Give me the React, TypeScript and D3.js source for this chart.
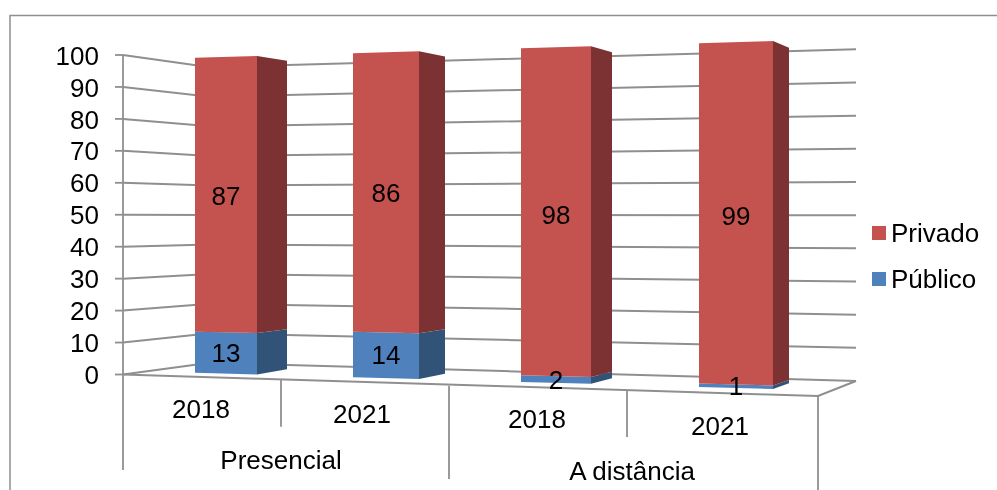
import React from "react";
import * as d3 from "d3";

const groups = ["Presencial", "A distância"];
const years = ["2018", "2021", "2018", "2021"];
const publico = [13, 14, 2, 1];
const privado = [87, 86, 98, 99];
const ticks = [0, 10, 20, 30, 40, 50, 60, 70, 80, 90, 100];

const W = 997, H = 490;
const FONT = "'Liberation Sans', Arial, sans-serif";
const GRID = "#8f8f8f";

// Perspective frame of the chart box: vertical scales at the three wall corners
const yFrontLeft = d3.scaleLinear().domain([0, 100]).range([374.5, 55]);
const yBackLeft = d3.scaleLinear().domain([0, 100]).range([362.8, 67.2]);
const yBackRight = d3.scaleLinear().domain([0, 100]).range([381, 49.3]);
const X_FRONT_LEFT = 123, X_BACK_LEFT = 210, X_BACK_RIGHT = 856, X_FRONT_RIGHT = 818, Y_FRONT_RIGHT = 396;

// Horizontal positions of bar faces by bar index
const idx = [0, 1, 2, 3];
const xFrontL = d3.scaleLinear().domain(idx).range([195, 353, 521, 699]);
const xFrontR = d3.scaleLinear().domain(idx).range([257, 419, 591, 773]);
const xSideR = d3.scaleLinear().domain(idx).range([287, 445, 612, 789]);

// Value baseline / top of the bars' front plane and side plane, along screen x
const frontBase = d3.scaleLinear().domain([195, 773]).range([372.7, 389]);
const frontTop = d3.scaleLinear().domain([195, 773]).range([57.7, 41]);
const sideBase = d3.scaleLinear().domain([287, 789]).range([369.3, 383.3]);
const sideTop = d3.scaleLinear().domain([287, 789]).range([60.7, 47.7]);

const yFront = (x: number, v: number) => d3.interpolateNumber(frontBase(x), frontTop(x))(v / 100);
const ySide = (x: number, v: number) => d3.interpolateNumber(sideBase(x), sideTop(x))(v / 100);

const pts = (p: number[][]) => p.map((q) => q.join(",")).join(" ");

const stacks = [
  { name: "Público", values: publico, front: "#4f81bd", side: "#335378", dy: [9, 9, 9, 9] },
  { name: "Privado", values: privado, front: "#c4524f", side: "#7c3331", dy: [10, 10, 12, 12] },
];

function seg(i: number, v0: number, v1: number) {
  const a = xFrontL(i), b = xFrontR(i), c = xSideR(i);
  return {
    front: [[a, yFront(a, v0)], [b, yFront(b, v0)], [b, yFront(b, v1)], [a, yFront(a, v1)]],
    side: [[b, yFront(b, v0)], [c, ySide(c, v0)], [c, ySide(c, v1)], [b, yFront(b, v1)]],
  };
}

const yearLabelPos = [[201, 417.7], [362, 423], [537, 427.7], [720, 435]];
const groupLabelPos = [[281, 469], [632, 480]];
const catTicks = [[281, 380, 426.7], [449, 385.7, 479], [627, 390.5, 437]];

export default function App() {
  return (
    <svg width={W} height={H} style={{ position: "absolute", left: 0, top: 0, background: "#fff" }}>
      <defs>
        <filter id="soft" x="0" y="0" width="1" height="1" filterUnits="objectBoundingBox">
          <feGaussianBlur stdDeviation="0.35" />
        </filter>
      </defs>
      <g filter="url(#soft)">
        <rect x={0} y={0} width={W} height={H} fill="#fff" />
        <path d={`M10,${H} V15.5 H${W}`} fill="none" stroke={GRID} strokeWidth={1.5} />

        {ticks.map((t) => (
          <g key={t}>
            <polyline
              points={pts([
                [X_FRONT_LEFT, yFrontLeft(t)],
                [X_BACK_LEFT, yBackLeft(t)],
                [X_BACK_RIGHT, yBackRight(t)],
              ])}
              fill="none" stroke={GRID} strokeWidth={2}
            />
            <line x1={115} x2={X_FRONT_LEFT} y1={yFrontLeft(t)} y2={yFrontLeft(t)} stroke={GRID} strokeWidth={1.8} />
            <text x={99} y={yFrontLeft(t) + 9.6} textAnchor="end" fontFamily={FONT} fontSize={26} fill="#000">{t}</text>
          </g>
        ))}

        <polyline
          points={pts([[X_BACK_RIGHT, yBackRight(0)], [X_FRONT_RIGHT, Y_FRONT_RIGHT], [X_FRONT_LEFT, yFrontLeft(0)]])}
          fill="none" stroke={GRID} strokeWidth={2}
        />
        <line x1={X_FRONT_LEFT} x2={X_FRONT_LEFT} y1={yFrontLeft(100)} y2={470} stroke={GRID} strokeWidth={1.8} />
        <line x1={X_FRONT_RIGHT} x2={X_FRONT_RIGHT} y1={Y_FRONT_RIGHT} y2={H} stroke={GRID} strokeWidth={1.8} />
        {catTicks.map(([x, y1, y2]) => (
          <line key={x} x1={x} x2={x} y1={y1} y2={y2} stroke={GRID} strokeWidth={1.8} />
        ))}

        {idx.map((i) => {
          let acc = 0;
          return (
            <g key={i}>
              {stacks.map((s) => {
                const v0 = acc;
                acc += s.values[i];
                const g = seg(i, v0, acc);
                return (
                  <g key={s.name}>
                    <polygon points={pts(g.side)} fill={s.side} />
                    <polygon points={pts(g.front)} fill={s.front} />
                  </g>
                );
              })}
            </g>
          );
        })}

        {idx.map((i) => {
          let acc = 0;
          return stacks.map((s) => {
            const mid = acc + s.values[i] / 2;
            acc += s.values[i];
            const x = (xFrontL(i) + xFrontR(i)) / 2;
            return (
              <text key={s.name + i} x={x} y={yFront(x, mid) + s.dy[i]} textAnchor="middle" fontFamily={FONT} fontSize={26} fill="#000">
                {s.values[i]}
              </text>
            );
          });
        })}

        {years.map((y, i) => (
          <text key={i} x={yearLabelPos[i][0]} y={yearLabelPos[i][1]} textAnchor="middle" fontFamily={FONT} fontSize={26} fill="#000">{y}</text>
        ))}
        {groups.map((g, i) => (
          <text key={g} x={groupLabelPos[i][0]} y={groupLabelPos[i][1]} textAnchor="middle" fontFamily={FONT} fontSize={26} fill="#000">{g}</text>
        ))}

        {[...stacks].reverse().map((s, i) => (
          <g key={s.name} transform={`translate(872,${226 + i * 46})`}>
            <rect width={14} height={14} fill={s.front} />
            <text x={19} y={15.5} fontFamily={FONT} fontSize={26} fill="#000">{s.name}</text>
          </g>
        ))}
      </g>
    </svg>
  );
}
